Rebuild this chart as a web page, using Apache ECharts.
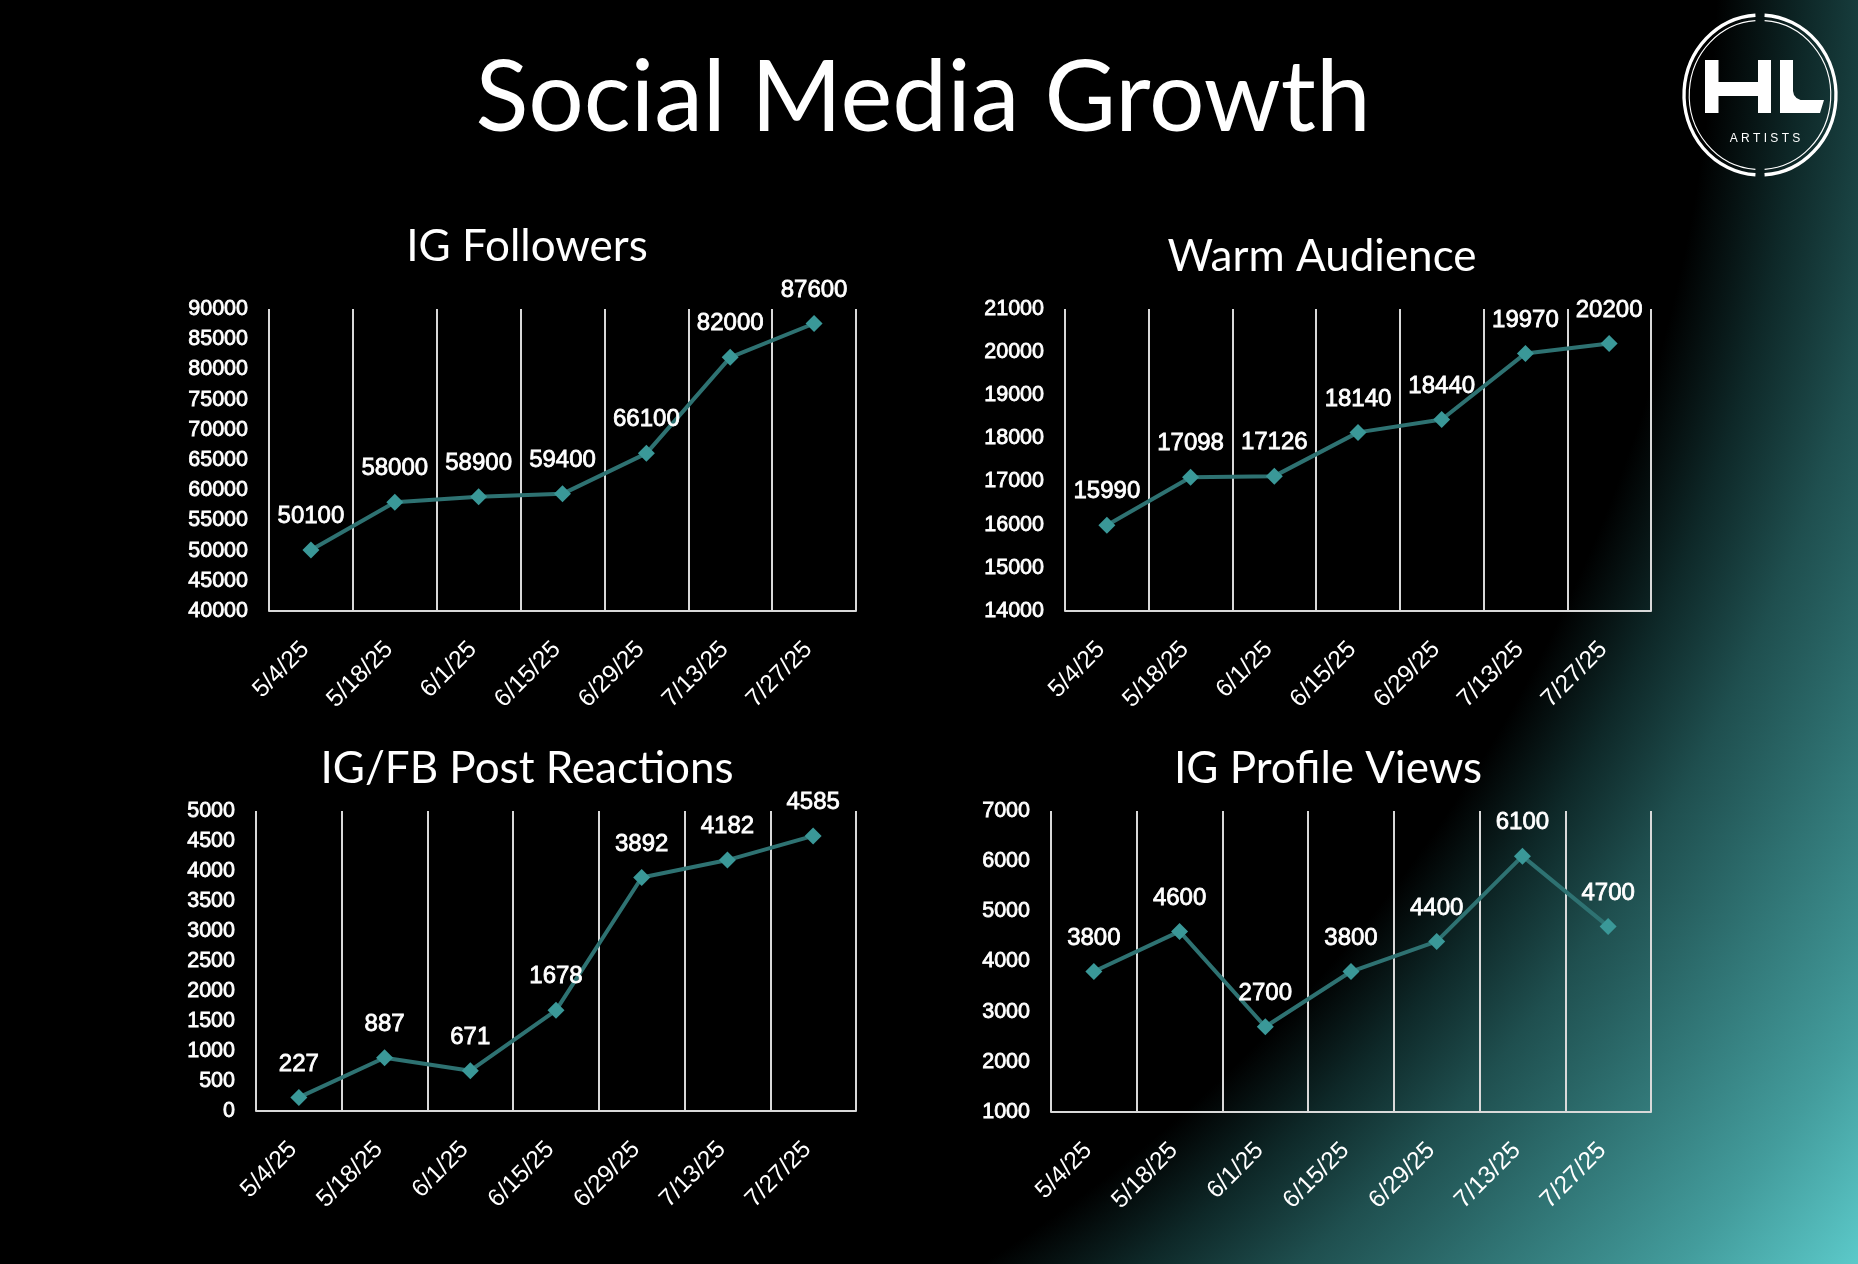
<!DOCTYPE html>
<html>
<head>
<meta charset="utf-8">
<script src="https://cdn.jsdelivr.net/npm/echarts/dist/echarts.min.js"></script>
<style>
html,body{margin:0;padding:0;width:1858px;height:1264px;overflow:hidden;}
body{background:radial-gradient(circle at 138px -72px,#000 0px,#000 1580px,#0e2828 1670px,#1f4f4f 1770px,#2f7272 1890px,#439c9c 2040px,#5ccaca 2180px);}
#chart{width:1858px;height:1264px;}
</style>
</head>
<body>
<div id="chart"></div>
<script>
// ---- data ----
const dates = ['5/4/25','5/18/25','6/1/25','6/15/25','6/29/25','7/13/25','7/27/25'];
const igFollowers   = [50100, 58000, 58900, 59400, 66100, 82000, 87600];
const warmAudience  = [15990, 17098, 17126, 18140, 18440, 19970, 20200];
const postReactions = [227, 887, 671, 1678, 3892, 4182, 4585];
const profileViews  = [3800, 4600, 2700, 3800, 4400, 6100, 4700];
const mainTitle = 'Social Media Growth';
const chartTitles = ['IG Followers', 'Warm Audience', 'IG/FB Post Reactions', 'IG Profile Views'];
const yMin = [40000, 14000, 0, 1000];
const yMax = [90000, 21000, 5000, 7000];
const yStep = [5000, 1000, 500, 1000];
const logoText = 'A R T I S T S';

// ---- layout / style ----
const seriesData = [igFollowers, warmAudience, postReactions, profileViews];
const grids = [
  {left: 269, top: 309, width: 587, height: 302},
  {left: 1065, top: 309, width: 586, height: 302},
  {left: 256, top: 811, width: 600, height: 300},
  {left: 1051, top: 811, width: 600, height: 301}
];
const titlePos = [[527, 247], [1322, 257], [527, 769], [1328, 769]];
const SANS = "'Liberation Sans', Arial, Helvetica, sans-serif";
const TITLE_FONT = "Lato, 'Open Sans', sans-serif";
const GRID_COLOR = '#d9d9d9';

const chart = echarts.init(document.getElementById('chart'), null, {renderer: 'canvas'});

const option = {
  backgroundColor: 'transparent',
  animation: false,
  grid: grids.map(g => Object.assign({containLabel: false, outerBoundsMode: 'none'}, g)),
  xAxis: grids.map((g, i) => ({
    type: 'category', gridIndex: i, data: dates, boundaryGap: true,
    axisLine: {show: true, lineStyle: {color: GRID_COLOR, width: 2}},
    axisTick: {show: false},
    splitLine: {show: true, interval: 0, lineStyle: {color: GRID_COLOR, width: 2}},
    axisLabel: {interval: 0, rotate: 45, margin: 29, padding: [0, 8, 0, 0], color: '#ffffff',
                fontSize: 24.5, fontFamily: SANS}
  })),
  yAxis: grids.map((g, i) => ({
    type: 'value', gridIndex: i, min: yMin[i], max: yMax[i], interval: yStep[i],
    axisLine: {show: false}, axisTick: {show: false}, splitLine: {show: false},
    axisLabel: {color: '#ffffff', fontSize: 21.5, margin: 21, fontFamily: SANS,
                textBorderColor: '#ffffff', textBorderWidth: 0.8,
                formatter: v => String(v)}
  })),
  series: seriesData.map((d, i) => ({
    type: 'line', xAxisIndex: i, yAxisIndex: i, data: d,
    symbol: 'diamond', symbolSize: 17, showAllSymbol: true,
    lineStyle: {color: '#2e7272', width: 4},
    itemStyle: {color: '#3a9898'},
    label: {show: true, position: 'top', distance: 13, color: '#ffffff', fontSize: 24,
            fontFamily: SANS, textBorderColor: '#ffffff', textBorderWidth: 0.8}
  })),
  graphic: [
    {type: 'text', x: 923, y: 99, style: {text: mainTitle, fill: '#ffffff',
      font: '98px ' + TITLE_FONT, align: 'center', verticalAlign: 'middle',
      textAlign: 'center', textVerticalAlign: 'middle'}},
  ].concat(chartTitles.map((t, i) => ({
    type: 'text', x: titlePos[i][0], y: titlePos[i][1],
    style: {text: t, fill: '#ffffff', font: '44px ' + TITLE_FONT, align: 'center',
      verticalAlign: 'middle', textAlign: 'center', textVerticalAlign: 'middle'}
  }))).concat([
    {type: 'group', x: 1760, y: 95, scaleX: 0.95, children: [
      {type: 'arc', shape: {cx: 0, cy: 0, r: 80, startAngle: -Math.PI / 2 + 0.06, endAngle: Math.PI / 2 - 0.06},
        style: {stroke: '#ffffff', lineWidth: 3.5, fill: 'none'}},
      {type: 'arc', shape: {cx: 0, cy: 0, r: 80, startAngle: Math.PI / 2 + 0.06, endAngle: Math.PI * 1.5 - 0.06},
        style: {stroke: '#ffffff', lineWidth: 3.5, fill: 'none'}},
      {type: 'arc', shape: {cx: 0, cy: 0, r: 74.5, startAngle: -Math.PI / 2 + 0.065, endAngle: Math.PI / 2 - 0.065},
        style: {stroke: '#ffffff', lineWidth: 1.2, fill: 'none'}},
      {type: 'arc', shape: {cx: 0, cy: 0, r: 74.5, startAngle: Math.PI / 2 + 0.065, endAngle: Math.PI * 1.5 - 0.065},
        style: {stroke: '#ffffff', lineWidth: 1.2, fill: 'none'}}
    ]},
    {type: 'rect', shape: {x: 1705, y: 60, width: 13.5, height: 53}, style: {fill: '#ffffff'}},
    {type: 'rect', shape: {x: 1717, y: 82, width: 42, height: 14}, style: {fill: '#ffffff'}},
    {type: 'rect', shape: {x: 1758, y: 60, width: 13, height: 53}, style: {fill: '#ffffff'}},
    {type: 'polygon', shape: {points: [[1780, 60], [1793, 60], [1793, 91], [1794, 95], [1796.5, 98], [1800.5, 100],
      [1824, 100], [1820, 113], [1780, 113]]}, style: {fill: '#ffffff'}},
    {type: 'text', x: 1765, y: 139, style: {text: logoText, fill: '#ffffff', font: '12px ' + SANS,
      align: 'center', verticalAlign: 'middle', textAlign: 'center', textVerticalAlign: 'middle'}}
  ])
};
chart.setOption(option);
</script>
</body>
</html>
